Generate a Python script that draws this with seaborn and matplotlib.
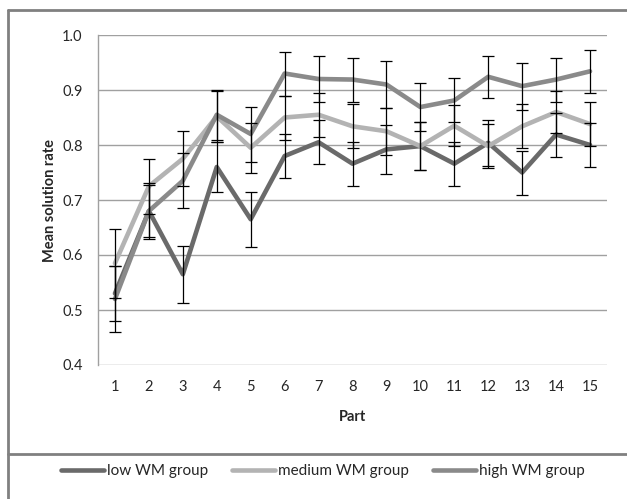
import numpy as np
import pandas as pd
import matplotlib
matplotlib.use("Agg")
import matplotlib.pyplot as plt
import seaborn as sns
from matplotlib.lines import Line2D

# Données
parts = list(range(1, 16))
low_mean = [0.53, 0.68, 0.565, 0.76, 0.665, 0.78, 0.805, 0.766, 0.792, 0.798, 0.766, 0.804, 0.75, 0.819, 0.80]
low_err = [0.05, 0.05, 0.052, 0.045, 0.05, 0.04, 0.04, 0.04, 0.044, 0.043, 0.04, 0.042, 0.04, 0.04, 0.04]
medium_mean = [0.585, 0.725, 0.775, 0.852, 0.795, 0.85, 0.855, 0.834, 0.825, 0.798, 0.835, 0.798, 0.834, 0.86, 0.838]
medium_err = [0.063, 0.05, 0.05, 0.046, 0.045, 0.04, 0.04, 0.04, 0.043, 0.043, 0.037, 0.04, 0.04, 0.038, 0.04]
high_mean = [0.52, 0.68, 0.735, 0.855, 0.82, 0.93, 0.92, 0.919, 0.91, 0.869, 0.881, 0.924, 0.907, 0.919, 0.934]
high_err = [0.06, 0.047, 0.05, 0.045, 0.05, 0.04, 0.042, 0.04, 0.043, 0.043, 0.04, 0.038, 0.043, 0.04, 0.039]

groups = ['low WM group', 'medium WM group', 'high WM group']
couleurs = {'low WM group': '#6a6a6a', 'medium WM group': '#b3b3b3', 'high WM group': '#8a8a8a'}

df = pd.DataFrame({
    'Part': parts * 3,
    'rate': low_mean + medium_mean + high_mean,
    'err': low_err + medium_err + high_err,
    'group': [g for g in groups for _ in parts],
})

sns.set_style('white')
plt.rcParams['font.family'] = ['Lato', 'DejaVu Sans']

fig = plt.figure(figsize=(6.27, 4.99), dpi=100)
ax = fig.add_axes([98 / 627, 1 - 365 / 499, 509 / 627, 330 / 499])

sns.lineplot(data=df, x='Part', y='rate', hue='group', hue_order=groups,
             palette=couleurs, linewidth=3.3, ax=ax, legend=False, zorder=2)

for g in groups:
    sub = df[df['group'] == g]
    ax.errorbar(sub['Part'], sub['rate'], yerr=sub['err'], fmt='none',
                ecolor='black', elinewidth=0.9, capsize=4, capthick=0.9, zorder=3)

ax.set_xlim(0.5, 15.5)
ax.set_ylim(0.4, 1.0)
ax.set_yticks(np.arange(0.4, 1.01, 0.1))
ax.set_yticklabels([f'{v:.1f}' for v in np.arange(0.4, 1.01, 0.1)])
ax.set_xticks(parts)
ax.grid(axis='y', color='#a0a0a0', linewidth=1)
ax.set_axisbelow(True)
for s in ['top', 'right', 'bottom']:
    ax.spines[s].set_visible(False)
ax.spines['left'].set_color('#a0a0a0')
ax.spines['left'].set_linewidth(1)
ax.tick_params(axis='y', length=0, labelsize=10.5, pad=11)
ax.tick_params(axis='x', length=0, labelsize=10.5, pad=11)
ax.set_xlabel('Part', fontsize=10.5, fontweight='bold', labelpad=11)
ax.set_ylabel('Mean solution rate', fontsize=10.5, fontweight='bold', labelpad=4)

# Cadre extérieur
def px(x, y):
    return x / 627, 1 - y / 499

cadre = dict(color='#808080', linewidth=2, transform=fig.transFigure)
fig.add_artist(Line2D(*zip(px(8, 10), px(627, 10)), **cadre))
fig.add_artist(Line2D(*zip(px(8, 10), px(8, 499)), **cadre))
fig.add_artist(Line2D(*zip(px(8, 454), px(627, 454)), **cadre))

handles = [Line2D([0], [0], color=couleurs[g], linewidth=3.3) for g in groups]
fig.legend(handles, groups, loc='center', bbox_to_anchor=(323 / 627, 1 - 471 / 499),
           ncol=3, frameon=False, fontsize=11, handlelength=2.8, handletextpad=0.2,
           columnspacing=1.6)

fig.savefig('out.png', dpi=100)
